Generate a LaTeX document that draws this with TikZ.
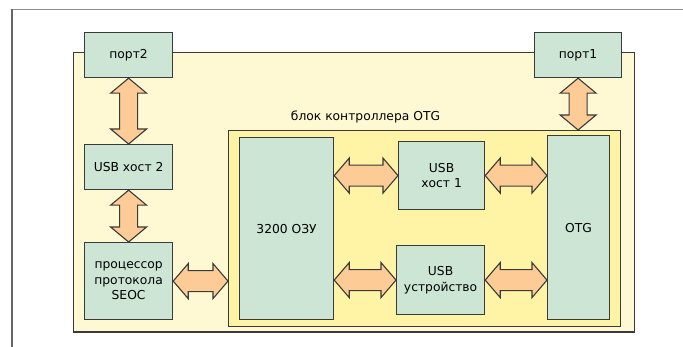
\documentclass[tikz,border=0pt]{standalone}
\usepackage{fontspec}
\setmainfont{DejaVu Sans}
\usetikzlibrary{calc}
\definecolor{boxg}{HTML}{CCE5D4}
\definecolor{mainy}{HTML}{FFF9D3}
\definecolor{blky}{HTML}{FFF3A5}
\definecolor{arrf}{HTML}{FCCB96}
\definecolor{edge}{HTML}{3A3A3A}
\newcommand\harr[2]{\draw[arr] let \p1=(#1), \p2=(#2) in
  (\x1,\y1) -- (\x1+15pt,\y1+17.5pt) -- (\x1+15pt,\y1+10.5pt) -- (\x2-15pt,\y1+10.5pt) -- (\x2-15pt,\y1+17.5pt)
  -- (\x2,\y1) -- (\x2-15pt,\y1-17.5pt) -- (\x2-15pt,\y1-10.5pt) -- (\x1+15pt,\y1-10.5pt) -- (\x1+15pt,\y1-17.5pt) -- cycle;}
\newcommand\varr[2]{\draw[arr] let \p1=(#1), \p2=(#2) in
  (\x1,\y1) -- (\x1+18pt,\y1-15pt) -- (\x1+9pt,\y1-15pt) -- (\x1+9pt,\y2+15pt) -- (\x1+18pt,\y2+15pt)
  -- (\x1,\y2) -- (\x1-18pt,\y2+15pt) -- (\x1-9pt,\y2+15pt) -- (\x1-9pt,\y1-15pt) -- (\x1-18pt,\y1-15pt) -- cycle;}
\begin{document}
\begin{tikzpicture}[x=1pt,y=-1pt,
  gbox/.style={draw=edge,line width=1.2pt,fill=boxg,anchor=north west,inner sep=0pt,align=center,
    font=\fontsize{12.3}{15.5}\selectfont},
  arr/.style={draw=edge,line width=1.1pt,fill=arrf,line join=miter},
  area/.style={draw=edge,line width=1.2pt,anchor=north west,inner sep=0pt}]
\useasboundingbox (0,0) rectangle (683,347);
\fill[white] (0,0) rectangle (683,347);
\draw[line width=1.6pt,draw=black!45] (12,9.5) -- (683,9.5);
\draw[line width=1.6pt,draw=black!60] (12,347) -- (12,9.5);
\node[area,fill=mainy,minimum width=561pt,minimum height=279.5pt] (main) at (73,52) {};
\node[area,fill=blky,minimum width=392pt,minimum height=196pt] (blk) at (228,130) {};
\node[font=\fontsize{12.3}{15}\selectfont] (lbl) at (365.5,117) {блок контроллера OTG};
\node[gbox,minimum width=88pt,minimum height=45pt] (port2) at (84,32) {порт2};
\node[gbox,minimum width=87pt,minimum height=45pt] (port1) at (534,32) {порт1};
\node[gbox,minimum width=88pt,minimum height=45pt] (host2) at (84,144) {USB хост 2};
\node[gbox,minimum width=88pt,minimum height=77pt] (proc) at (84,242) {процессор\\протокола\\SEOC};
\node[gbox,minimum width=94pt,minimum height=182pt] (ram) at (239,137) {3200 ОЗУ};
\node[gbox,minimum width=86pt,minimum height=68pt] (host1) at (398,141) {USB\\хост 1};
\node[gbox,minimum width=88pt,minimum height=69pt] (dev) at (396,245) {USB\\устройство};
\node[gbox,minimum width=62pt,minimum height=184pt] (otg) at (547,135) {OTG};
\varr{port2.south}{host2.north}
\varr{host2.south}{proc.north}
\varr{port1.south}{port1.south |- blk.north}
\harr{proc.east}{blk.west |- proc.east}
\harr{ram.east |- host1.west}{host1.west}
\harr{host1.east}{otg.west |- host1.east}
\harr{ram.east |- dev.west}{dev.west}
\harr{dev.east}{otg.west |- dev.east}
\end{tikzpicture}
\end{document}
